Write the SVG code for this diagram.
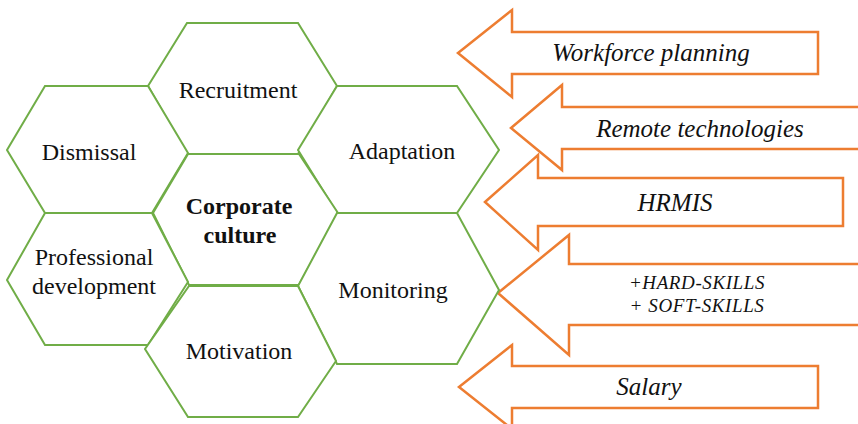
<svg xmlns="http://www.w3.org/2000/svg" width="858" height="424" viewBox="0 0 858 424">
<style>
.hex{fill:#ffffff;stroke:#70AD47;stroke-width:2;stroke-linejoin:miter}
.arr{fill:#ffffff;stroke:#ED7D31;stroke-width:2.5;stroke-linejoin:miter}
text{font-family:'Liberation Serif','Tinos','Times New Roman','DejaVu Serif',serif;fill:#111111;text-anchor:middle}
.lbl{font-size:24px}
.b{font-weight:bold}
.it{font-style:italic;font-size:25px}
.sm{font-size:19px;letter-spacing:0.6px}
</style>
<rect width="858" height="424" fill="#ffffff"/>
<g id="connectors">
  <g id="arrow-workforce">
    <polygon class="arr" points="458,53 512,10 512,32 818,32 818,74 512,74 512,97"/>
    <text class="it" x="651" y="61">Workforce planning</text>
  </g>
  <g id="arrow-remote">
    <polygon class="arr" points="511,128 562,85 562,107 870,107 870,149 562,149 562,170"/>
    <text class="it" x="700" y="137">Remote technologies</text>
  </g>
  <g id="arrow-hrmis">
    <polygon class="arr" points="485,202 538,155 538,178 843,178 843,226 538,226 538,250"/>
    <text class="it" x="675" y="211">HRMIS</text>
  </g>
  <g id="arrow-skills">
    <polygon class="arr" points="498,293 569,235 569,264 870,264 870,325 569,325 569,355"/>
    <text class="it sm" x="697" y="289">+HARD-SKILLS</text>
    <text class="it sm" x="697" y="312">+ SOFT-SKILLS</text>
  </g>
  <g id="arrow-salary">
    <polygon class="arr" points="459,387 512,345 512,366 818,366 818,408 512,408 512,429"/>
    <text class="it" x="649" y="395">Salary</text>
  </g>
</g>
<g id="recruitment">
  <polygon class="hex" points="187,23 298,23 337,86 298,154 187,154 148,86"/>
  <text class="lbl" x="238" y="98">Recruitment</text>
</g>
<g id="dismissal">
  <polygon class="hex" points="45,86 148,86 188,153 152,213 45,213 7,150"/>
  <text class="lbl" x="89" y="160">Dismissal</text>
</g>
<g id="adaptation">
  <polygon class="hex" points="337,86 457,86 499,150 457,213 337,213 298,150"/>
  <text class="lbl" x="402" y="159">Adaptation</text>
</g>
<g id="corporate-culture">
  <polygon class="hex" points="188,154 299,154 338,213 299,285 189,285 153,213"/>
  <text class="lbl b" x="239" y="214">Corporate</text>
  <text class="lbl b" x="240" y="243">culture</text>
</g>
<g id="professional-development">
  <polygon class="hex" points="45,213 152,213 188,282 148,345 45,345 7,280"/>
  <text class="lbl" x="94" y="265">Professional</text>
  <text class="lbl" x="94" y="294">development</text>
</g>
<g id="monitoring">
  <polygon class="hex" points="337,213 457,213 499,290 457,364 337,364 298,286"/>
  <text class="lbl" x="393" y="298">Monitoring</text>
</g>
<g id="motivation">
  <polygon class="hex" points="189,286 298,286 336,361 298,417 188,417 145,349"/>
  <text class="lbl" x="239" y="359">Motivation</text>
</g>
</svg>
